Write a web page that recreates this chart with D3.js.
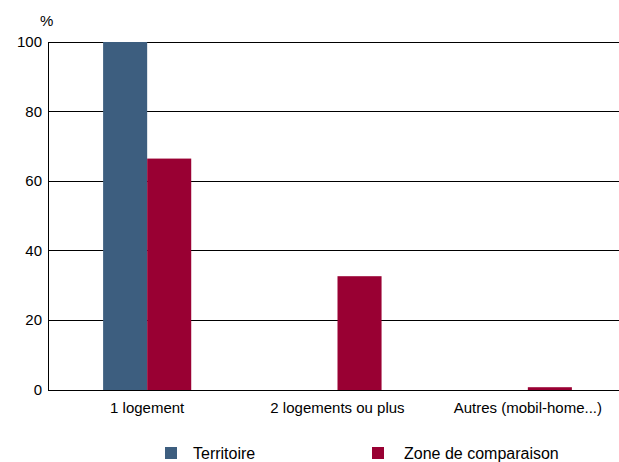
<!DOCTYPE html>
<html><head><meta charset="utf-8">
<script src="https://cdn.jsdelivr.net/npm/d3@7"></script>
<style>body{margin:0;background:#fff}text{font-family:"Liberation Sans",Arial,sans-serif}</style>
</head><body>
<svg id="c" width="619" height="462"></svg>
<script>
const categories = ["1 logement", "2 logements ou plus", "Autres (mobil-home...)"];
const territoire = [100, 0, 0];
const comparaison = [66.5, 32.7, 0.8];
const seriesNames = ["Territoire", "Zone de comparaison"];
const colors = ["#3d5e7f", "#990033"];
const yTicks = [0, 20, 40, 60, 80, 100];

const svg = d3.select("#c");
const L = 48, R = 619, T = 42, B = 390;
const x = d3.scaleBand().domain(categories).range([L + 4, R + 4]).paddingInner(0).paddingOuter(0);
const x1 = d3.scaleBand().domain([0, 1]).range([0, x.bandwidth()]).paddingInner(0).paddingOuter(1.16);
const y = d3.scaleLinear().domain([0, 100]).range([B, T]);

svg.append("g").selectAll("line").data(yTicks).join("line")
  .attr("x1", L).attr("x2", R).attr("y1", d => y(d)).attr("y2", d => y(d))
  .attr("stroke", "#000").attr("stroke-width", 1).attr("shape-rendering", "crispEdges");
svg.append("g").selectAll("text").data(yTicks).join("text")
  .attr("x", 42).attr("y", d => y(d) + 5).attr("text-anchor", "end")
  .attr("font-size", 15).text(d => d);
svg.append("text").attr("x", 40).attr("y", 26).attr("font-size", 15).text("%");

const data = [territoire, comparaison];
data.forEach((s, si) => {
  svg.append("g").selectAll("rect").data(s).join("rect")
    .attr("x", (d, i) => x(categories[i]) + x1(si))
    .attr("width", x1.bandwidth())
    .attr("y", d => y(d)).attr("height", d => B - y(d))
    .attr("fill", colors[si]);
});
svg.append("line").attr("x1", L).attr("x2", R).attr("y1", B).attr("y2", B)
  .attr("stroke", "#000").attr("shape-rendering", "crispEdges");
svg.append("line").attr("x1", L).attr("x2", L).attr("y1", T).attr("y2", B)
  .attr("stroke", "#000").attr("shape-rendering", "crispEdges");

svg.append("g").selectAll("text").data(categories).join("text")
  .attr("x", d => x(d) + x.bandwidth() / 2).attr("y", 413)
  .attr("text-anchor", "middle").attr("font-size", 15).text(d => d);

const lx = [165, 372], tx = [193, 404];
seriesNames.forEach((n, i) => {
  svg.append("rect").attr("x", lx[i]).attr("y", 447).attr("width", 12).attr("height", 12).attr("fill", colors[i]);
  svg.append("text").attr("x", tx[i]).attr("y", 459).attr("font-size", 16).text(n);
});
</script>
</body></html>
